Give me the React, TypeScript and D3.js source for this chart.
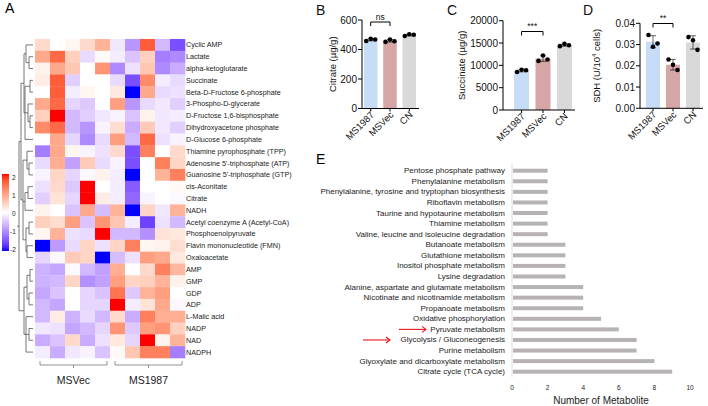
import React from "react"
import * as d3 from "d3"

const FONT = "'Liberation Sans', Arial, sans-serif"

// heatmap data
const metabolites = [
  "Cyclic AMP",
  "Lactate",
  "alpha-ketoglutarate",
  "Succinate",
  "Beta-D-Fructose 6-phosphate",
  "3-Phospho-D-glycerate",
  "D-Fructose 1,6-bisphosphate",
  "Dihydroxyacetone phosphate",
  "D-Glucose 6-phosphate",
  "Thiamine pyrophosphate (TPP)",
  "Adenosine 5'-triphosphate (ATP)",
  "Guanosine 5'-triphosphate (GTP)",
  "cis-Aconitate",
  "Citrate",
  "NADH",
  "Acetyl coenzyme A (Acetyl-CoA)",
  "Phosphoenolpyruvate",
  "Flavin mononucleotide (FMN)",
  "Oxaloacetate",
  " AMP",
  "GMP",
  " GDP",
  "ADP",
  "L-Malic acid",
  "NADP",
  "NAD",
  "NADPH",
]

const zScores = [
  [0.4, 0, 0.1, 0.4, 0.8, -0.2, -0.9, 1.6, -0.6, -1.5],
  [0.9, 1.5, 0.5, -0.3, 0.05, -0.15, -0.5, 0.5, -1.1, -1.0],
  [0.15, 0.9, 0.6, 0, 1.1, -1.0, -0.25, 0.6, -1.0, -0.7],
  [0.2, 1.6, -0.4, 0, 0, -0.3, -1.5, 1.2, -0.15, -0.3],
  [0, 1.6, -0.15, 0.1, 0, 0.25, -2, 0.9, -0.3, -0.25],
  [0.9, 1.5, -0.35, -0.45, 0, 1.0, -0.9, -0.3, -0.2, -0.4],
  [0.5, 2.0, -0.6, -0.4, -0.2, -0.1, -0.5, 0.15, -0.2, -0.15],
  [1.2, 1.5, -0.6, -0.9, -0.1, 0.35, -0.7, 0.55, -0.2, -0.4],
  [0, 0.9, -0.35, -1.0, -0.3, 1.0, -0.6, 1.5, -0.25, -0.1],
  [-1.1, 0.9, 0.1, -0.1, -0.25, 0.4, -1.5, 1.3, 0, 0.4],
  [-0.3, 0.85, -0.8, 0.55, -0.3, -0.1, -1.5, 0, 1.3, 0.45],
  [-0.1, 0.45, -0.35, -0.05, 0.15, -0.15, -2, 0, 0.8, 1.3],
  [-0.25, 0.4, -0.45, 2.0, 0, -0.15, -1.4, 0, 0, 0.05],
  [-0.4, 0.3, -0.35, 2.0, 0.2, -0.15, -1.3, -0.1, 0, -0.05],
  [0.15, 0, -0.5, 0.9, -0.55, 0.8, -2, 0.45, -0.2, 0.8],
  [0.5, 0.35, 1.0, -0.5, 1.1, 0.6, -0.15, -1.6, -0.25, -0.6],
  [0.1, 0.8, -0.25, -0.3, 2.0, -0.6, -0.6, -0.95, 0.3, 0.25],
  [-2, -0.85, -0.3, 0.45, -0.25, 0.45, 1.3, 0.1, 0.15, 0.35],
  [-0.35, -0.05, 0.55, 0.45, -2, -0.55, -0.25, 1.0, 0.9, 0.25],
  [-0.65, -0.75, -0.05, -0.6, -0.8, 0.85, 0, 0.4, 1.3, 0.75],
  [-0.65, -0.6, 0.45, -0.95, -0.8, 1.0, 0.45, 0.5, 0.8, 0.15],
  [-0.75, -0.5, 0, -0.35, -0.5, 1.4, -0.45, 0.8, 1.0, 0],
  [-0.6, -0.75, 0, -0.35, -0.35, 2.0, -0.15, 0.3, 0.9, -0.05],
  [-0.6, 0.2, -0.65, -0.3, -0.6, 0.4, -0.7, 1.3, 0.85, 0.85],
  [-0.2, -0.25, -0.75, -0.6, -0.35, 1.1, -0.45, 1.0, 1.1, 0.5],
  [-0.7, -0.5, 0.4, -0.7, -0.25, 0.25, -0.35, 2.0, 0.15, 0.8],
  [-0.15, -0.7, -0.2, -0.1, -0.5, 0.05, 0.6, 1.3, 1.3, -1.1],
]

const sampleGroups = ["MSVec", "MS1987"]
const samplesPerGroup = 5
const legendTicks = [2, 1, 0, -1, -2]

// row dendrogram: leaves are row indexes, nodes carry a merge height
type TreeNode = number | { h: number; c: TreeNode[] }
const rowTree: TreeNode = {
  h: 14,
  c: [
    {
      h: 12,
      c: [
        {
          h: 9,
          c: [
            { h: 7, c: [0, { h: 4, c: [1, 2] }] },
            { h: 8, c: [{ h: 3, c: [3, 4] }, { h: 5, c: [5, { h: 3, c: [6, 7] }] }, 8] },
          ],
        },
        {
          h: 10,
          c: [
            { h: 6, c: [9, { h: 4, c: [10, 11] }] },
            { h: 8, c: [{ h: 5, c: [12, 13] }, 14] },
            { h: 7, c: [{ h: 4, c: [15, 16] }, { h: 6, c: [17, 18] }] },
          ],
        },
      ],
    },
    {
      h: 9,
      c: [
        { h: 6, c: [{ h: 3, c: [19, 20] }, { h: 4, c: [21, 22] }] },
        { h: 7, c: [23, { h: 4, c: [24, 25] }, 26] },
      ],
    },
  ],
}

// bar panels
const barGroups = ["MS1987", "MSVec", "CN"]
const barColors = ["#c7dcf6", "#d6a5a6", "#d9d9d9"]
const citrateDots = [
  [458, 472, 468],
  [452, 468, 456],
  [492, 503, 500],
]
const citrateTicks = [0, 200, 400, 600]
const succinateDots = [
  [8500, 9000, 8900],
  [11000, 12200, 11300],
  [14300, 14800, 14500],
]
const succinateTicks = [0, 5000, 10000, 15000, 20000]
const sdhDots = [
  [0.0345, 0.029, 0.0305],
  [0.023, 0.0205, 0.018],
  [0.0335, 0.032, 0.0275],
]
const sdhTicks = [0, 0.01, 0.02, 0.03, 0.04]

// pathway enrichment
const pathways = [
  "Pentose phosphate pathway",
  "Phenylalanine metabolism",
  "Phenylalanine, tyrosine and tryptophan biosynthesis",
  "Riboflavin metabolism",
  "Taurine and hypotaurine metabolism",
  "Thiamine metabolism",
  "Valine, leucine and isoleucine degradation",
  "Butanoate metabolism",
  "Glutathione metabolism",
  "Inositol phosphate metabolism",
  "Lysine degradation",
  "Alanine, aspartate and glutamate metabolism",
  "Nicotinate and nicotinamide metabolism",
  "Propanoate metabolism",
  "Oxidative phosphorylation",
  "Pyruvate metabolism",
  "Glycolysis / Gluconeogenesis",
  "Purine metabolism",
  "Glyoxylate and dicarboxylate metabolism",
  "Citrate cycle (TCA cycle)",
]
const metaboliteCounts = [2, 2, 2, 2, 2, 2, 2, 3, 3, 3, 3, 4, 4, 4, 5, 6, 7, 7, 8, 9]
const countTicks = [0, 2, 4, 6, 8, 10]
const highlighted = ["Pyruvate metabolism", "Glycolysis / Gluconeogenesis"]

const heatColor = d3
  .scaleLinear<string>()
  .domain([-2, 0, 2])
  .range(["#0000ff", "#ffffff", "#ff0000"])
  .interpolate(d3.interpolateLab)
  .clamp(true)

function Heatmap() {
  const nCols = sampleGroups.length * samplesPerGroup
  const x = d3.scaleBand<number>().domain(d3.range(nCols)).range([35, 185])
  const y = d3.scaleBand<number>().domain(d3.range(metabolites.length)).range([39, 358])
  const hx = d3.scaleLinear().domain([0, 14]).range([33, 19])
  const leg = d3.scaleLinear().domain([-2, 2]).range([249, 177])

  const lines: React.ReactNode[] = []
  const walk = (n: TreeNode): { x: number; y: number } => {
    if (typeof n === "number") return { x: hx(0), y: y(n)! + y.bandwidth() / 2 }
    const kids = n.c.map(walk)
    const px = hx(n.h)
    const ys = kids.map((k) => k.y)
    lines.push(
      <line key={`v${lines.length}`} x1={px} x2={px} y1={d3.min(ys)} y2={d3.max(ys)} />
    )
    kids.forEach((k) =>
      lines.push(<line key={`h${lines.length}`} x1={px} x2={k.x} y1={k.y} y2={k.y} />)
    )
    return { x: px, y: (d3.min(ys)! + d3.max(ys)!) / 2 }
  }
  const root = walk(rowTree)

  const gradStops = d3.range(0, 1.0001, 0.05)

  return (
    <g fontFamily={FONT}>
      <text x={5} y={13} fontSize={14}>A</text>
      {zScores.map((row, i) =>
        row.map((v, j) => (
          <rect
            key={`${i}-${j}`}
            x={x(j)}
            y={y(i)}
            width={x.bandwidth() + 0.3}
            height={y.bandwidth() + 0.3}
            fill={heatColor(v)}
          />
        ))
      )}
      <g stroke="#555" strokeWidth={0.8} fill="none">
        {lines}
        <line x1={root.x - 2} x2={root.x} y1={root.y} y2={root.y} />
      </g>
      {metabolites.map((m, i) => (
        <text
          key={m}
          x={186}
          y={y(i)! + y.bandwidth() / 2}
          dominantBaseline="central"
          fontSize={7.2}
          fill="#222"
        >
          {m}
        </text>
      ))}
      {sampleGroups.map((g, gi) => {
        const x0 = x(gi * samplesPerGroup)! + 5
        const x1 = x(gi * samplesPerGroup + samplesPerGroup - 1)! + x.bandwidth() - 3
        const cx = (x0 + x1) / 2
        return (
          <g key={g}>
            <path
              d={`M${x0},361 V365 H${x1} V361 M${cx},365 V368`}
              stroke="#777"
              strokeWidth={0.8}
              fill="none"
            />
            <text x={cx} y={384} textAnchor="middle" fontSize={10.5} fill="#222">
              {g}
            </text>
          </g>
        )
      })}
      <defs>
        <linearGradient id="zgrad" x1="0" x2="0" y1="0" y2="1">
          {gradStops.map((t) => (
            <stop key={t} offset={t} stopColor={heatColor(2 - 4 * t)} />
          ))}
        </linearGradient>
      </defs>
      <rect x={2} y={174} width={7} height={77} fill="url(#zgrad)" />
      {legendTicks.map((t) => (
        <text
          key={t}
          x={t < 0 ? 10 : 12}
          y={leg(t)}
          dominantBaseline="central"
          fontSize={6.5}
          fill="#222"
        >
          {t}
        </text>
      ))}
    </g>
  )
}

type BarProps = {
  letter: string
  letterX: number
  title: React.ReactNode
  titleX: number
  axisX: number
  barStart: number
  barEnd: number
  yTop: number
  yBottom: number
  ticks: number[]
  fmt: (v: number) => string
  dots: number[][]
  sig: string
  sigY: number
}

function BarPanel(p: BarProps) {
  const y = d3
    .scaleLinear()
    .domain([0, d3.max(p.ticks)!])
    .range([p.yBottom, p.yTop])
  const x = d3
    .scaleBand()
    .domain(barGroups)
    .range([p.barStart, p.barEnd])
    .paddingInner(0.3)
    .paddingOuter(0.05)
  const bw = x.bandwidth()
  const offsets = [-4.5, 0, 4.5]
  const c0 = x(barGroups[0])! + bw / 2
  const c1 = x(barGroups[1])! + bw / 2
  return (
    <g fontFamily={FONT} fill="#111">
      <text x={p.letterX} y={15} fontSize={14}>{p.letter}</text>
      <text
        transform={`translate(${p.titleX},${(p.yTop + p.yBottom) / 2}) rotate(-90)`}
        textAnchor="middle"
        fontSize={9.5}
      >
        {p.title}
      </text>
      {barGroups.map((g, i) => {
        const vals = p.dots[i]
        const m = d3.mean(vals)!
        const sd = d3.deviation(vals)!
        const cx = x(g)! + bw / 2
        return (
          <g key={g}>
            <rect x={x(g)} y={y(m)} width={bw} height={y(0) - y(m)} fill={barColors[i]} />
            <path
              d={`M${cx},${y(m - sd)} V${y(m + sd)} M${cx - 3},${y(m + sd)} H${cx + 3} M${cx - 3},${y(m - sd)} H${cx + 3}`}
              stroke="#222"
              strokeWidth={0.7}
            />
            {vals.map((v, k) => (
              <circle key={k} cx={cx + offsets[k]} cy={y(v)} r={2.3} fill="#000" />
            ))}
          </g>
        )
      })}
      <g stroke="#000" strokeWidth={1} fill="none">
        <line x1={p.axisX} x2={p.axisX} y1={p.yTop} y2={p.yBottom} />
        <line x1={p.axisX} x2={p.barEnd + 2} y1={p.yBottom} y2={p.yBottom} />
        {p.ticks.map((t) => (
          <line key={t} x1={p.axisX - 4} x2={p.axisX} y1={y(t)} y2={y(t)} />
        ))}
        {barGroups.map((g) => (
          <line
            key={g}
            x1={x(g)! + bw / 2}
            x2={x(g)! + bw / 2}
            y1={p.yBottom}
            y2={p.yBottom + 3}
          />
        ))}
        <path d={`M${c0},${p.sigY + 4} V${p.sigY} H${c1} V${p.sigY + 4}`} />
      </g>
      <text x={(c0 + c1) / 2} y={p.sigY - 2.5} textAnchor="middle" fontSize={8.5}>
        {p.sig}
      </text>
      {p.ticks.map((t) => (
        <text
          key={t}
          x={p.axisX - 5}
          y={y(t)}
          textAnchor="end"
          dominantBaseline="central"
          fontSize={10}
        >
          {p.fmt(t)}
        </text>
      ))}
      {barGroups.map((g) => (
        <text
          key={g}
          transform={`translate(${x(g)! + bw / 2 + 4},${p.yBottom + 7}) rotate(-45)`}
          textAnchor="end"
          fontSize={9.5}
        >
          {g}
        </text>
      ))}
    </g>
  )
}

function Pathways() {
  const x = d3.scaleLinear().domain([0, 10]).range([512, 690])
  const y = d3.scalePoint().domain(pathways).range([170.7, 371.7])
  const fs = 8
  return (
    <g fontFamily={FONT}>
      <text x={316} y={164} fontSize={14}>E</text>
      <line x1={x(0)} x2={x(0)} y1={164} y2={377} stroke="#ddd" strokeWidth={1} />
      {pathways.map((p, i) => (
        <g key={p}>
          <rect
            x={x(0) + 1}
            y={y(p)! - 2}
            width={x(metaboliteCounts[i]) - x(0) - 1}
            height={4}
            fill="#b7b3b3"
          />
          <text
            x={505}
            y={y(p)}
            textAnchor="end"
            dominantBaseline="central"
            fontSize={fs}
            fill="#222"
          >
            {p}
          </text>
        </g>
      ))}
      {highlighted.map((h) => {
        const w = fs * 0.5 * h.length
        const end = 505 - w - 3
        return (
          <g key={h} stroke="#e8141b" strokeWidth={1.1} fill="none">
            <line x1={end - 27} x2={end} y1={y(h)} y2={y(h)} />
            <path d={`M${end - 4},${y(h)! - 3} L${end},${y(h)} L${end - 4},${y(h)! + 3}`} />
          </g>
        )
      })}
      {countTicks.map((t) => (
        <text key={t} x={x(t)} y={387} textAnchor="middle" dominantBaseline="central" fontSize={6.5} fill="#222">
          {t}
        </text>
      ))}
      <text x={601} y={404} textAnchor="middle" fontSize={10} fill="#222">
        Number of Metabolite
      </text>
    </g>
  )
}

export default function App() {
  return (
    <svg
      width={708}
      height={406}
      style={{ position: "absolute", left: 0, top: 0, background: "#fff" }}
    >
      <Heatmap />
      <BarPanel
        letter="B"
        letterX={316}
        title="Citrate (µg/g)"
        titleX={336}
        axisX={362}
        barStart={363}
        barEnd={417}
        yTop={20}
        yBottom={108.5}
        ticks={citrateTicks}
        fmt={(v) => String(v)}
        dots={citrateDots}
        sig="ns"
        sigY={22}
      />
      <BarPanel
        letter="C"
        letterX={447}
        title="Succinate (µg/g)"
        titleX={465}
        axisX={503}
        barStart={513}
        barEnd={573}
        yTop={20.7}
        yBottom={110}
        ticks={succinateTicks}
        fmt={(v) => String(v)}
        dots={succinateDots}
        sig="***"
        sigY={31.5}
      />
      <BarPanel
        letter="D"
        letterX={583}
        title={
          <>
            SDH (U/10
            <tspan fontSize={6} dy={-4}>4</tspan>
            <tspan dy={4}> cells)</tspan>
          </>
        }
        titleX={600}
        axisX={640}
        barStart={645}
        barEnd={701}
        yTop={23.3}
        yBottom={108.3}
        ticks={sdhTicks}
        fmt={(v) => v.toFixed(2)}
        dots={sdhDots}
        sig="**"
        sigY={23.5}
      />
      <Pathways />
    </svg>
  )
}
